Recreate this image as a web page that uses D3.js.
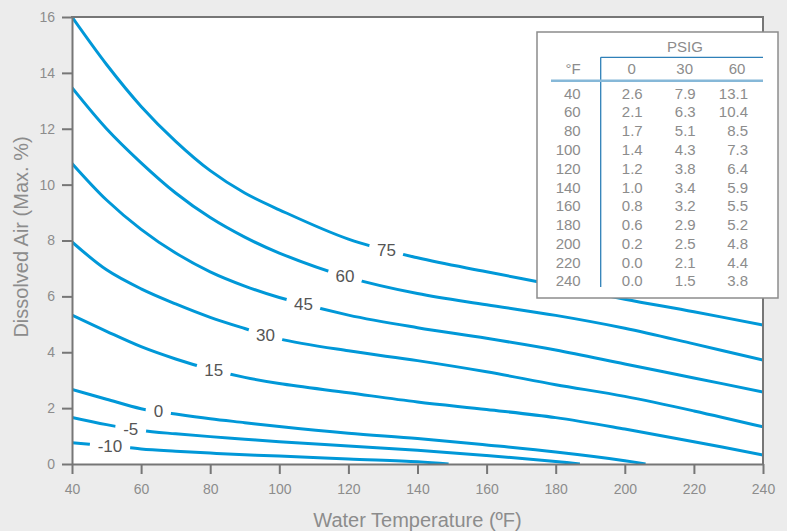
<!DOCTYPE html>
<html>
<head>
<meta charset="utf-8">
<script src="https://cdn.jsdelivr.net/npm/d3@7"></script>
<style>
  body { margin: 0; background: #ececec; }
  svg { display: block; font-family: "Liberation Sans", Arial, Helvetica, sans-serif; }
</style>
</head>
<body>
<div id="chart"></div>
<script>
// Temperatures (°F) the curves were read at
var temps = [40, 50, 60, 70, 80, 90, 100, 120, 140, 160, 180, 200, 220, 240];

// Dissolved air (%) for each pressure curve (PSIG)
var psig75 = [16.0, 14.3, 12.8, 11.55, 10.5, 9.7, 9.1, 8.05, 7.38, 6.88, 6.4, 5.9, 5.45, 4.97];
var psig60 = [13.47, 12.0, 10.78, 9.7, 8.82, 8.12, 7.55, 6.68, 6.1, 5.7, 5.32, 4.86, 4.3, 3.72];
var psig45 = [10.76, 9.45, 8.4, 7.55, 6.88, 6.37, 5.96, 5.33, 4.88, 4.5, 4.08, 3.58, 3.08, 2.58];
var psig30 = [7.95, 6.95, 6.27, 5.73, 5.25, 4.85, 4.48, 4.05, 3.7, 3.3, 2.84, 2.42, 1.9, 1.33];
var psig15 = [5.33, 4.75, 4.2, 3.76, 3.39, 3.1, 2.88, 2.55, 2.22, 1.95, 1.66, 1.25, 0.8, 0.32];

// the low pressure curves run into the axis before 240 °F
var tempsPsig0 = [40, 50, 60, 70, 80, 90, 100, 120, 140, 160, 180, 200, 206];
var psig0 = [2.67, 2.32, 1.98, 1.79, 1.62, 1.48, 1.34, 1.1, 0.91, 0.68, 0.43, 0.12, 0];
var tempsPsigM5 = [40, 50, 60, 70, 80, 90, 100, 120, 140, 160, 180, 187];
var psigM5 = [1.67, 1.41, 1.2, 1.08, 0.98, 0.89, 0.8, 0.64, 0.49, 0.3, 0.09, 0];
var tempsPsigM10 = [40, 50, 60, 70, 80, 90, 100, 120, 140, 149];
var psigM10 = [0.76, 0.66, 0.54, 0.46, 0.39, 0.33, 0.29, 0.18, 0.08, 0];

var curveLabels = ["75", "60", "45", "30", "15", "0", "-5", "-10"];
var labelTemps = [131, 119, 107, 96, 81, 65, 57, 51];

// Inset table
var tableHeader = ["0", "30", "60"];
var tableTemps = [40, 60, 80, 100, 120, 140, 160, 180, 200, 220, 240];
var table0 = ["2.6", "2.1", "1.7", "1.4", "1.2", "1.0", "0.8", "0.6", "0.2", "0.0", "0.0"];
var table30 = ["7.9", "6.3", "5.1", "4.3", "3.8", "3.4", "3.2", "2.9", "2.5", "2.1", "1.5"];
var table60 = ["13.1", "10.4", "8.5", "7.3", "6.4", "5.9", "5.5", "5.2", "4.8", "4.4", "3.8"];

var xTicks = d3.range(40, 241, 20);
var yTicks = d3.range(0, 17, 2);

// SVG area
var svgWidth = 787;
var svgHeight = 531;
var margin = { top: 17, right: 24, bottom: 67, left: 72 };
var width = svgWidth - margin.left - margin.right;
var height = svgHeight - margin.top - margin.bottom;

var lineColor = "#0098d8";
var axisColor = "#767676";
var textColor = "#8c8c8c";

var svg = d3.select("#chart")
  .append("svg")
  .attr("width", svgWidth)
  .attr("height", svgHeight);

var defs = svg.append("defs");

var chartGroup = svg.append("g")
  .attr("transform", `translate(${margin.left}, ${margin.top})`);

var x = d3.scaleLinear().domain([40, 240]).range([0, width]);
var y = d3.scaleLinear().domain([0, 16]).range([height, 0]);

// white plot area
chartGroup.append("rect")
  .attr("width", width)
  .attr("height", height)
  .attr("fill", "#fff");

defs.append("clipPath").attr("id", "plot-clip")
  .append("rect").attr("width", width).attr("height", height);

var series = [
  { t: temps, v: psig75 },
  { t: temps, v: psig60 },
  { t: temps, v: psig45 },
  { t: temps, v: psig30 },
  { t: temps, v: psig15 },
  { t: tempsPsig0, v: psig0 },
  { t: tempsPsigM5, v: psigM5 },
  { t: tempsPsigM10, v: psigM10 }
];

function valueAt(ts, vs, t) {
  var i = d3.bisectRight(ts, t);
  i = Math.max(1, Math.min(ts.length - 1, i));
  var f = (t - ts[i - 1]) / (ts[i] - ts[i - 1]);
  return vs[i - 1] + f * (vs[i] - vs[i - 1]);
}

var line = d3.line()
  .x(d => x(d[0]))
  .y(d => y(d[1]))
  .curve(d3.curveCatmullRom.alpha(0.5));

var linesGroup = chartGroup.append("g").attr("clip-path", "url(#plot-clip)");
var labelGroup = chartGroup.append("g");

series.forEach(function(s, i) {
  var lx = x(labelTemps[i]);
  var ly = y(valueAt(s.t, s.v, labelTemps[i]));

  var label = labelGroup.append("text")
    .attr("x", lx)
    .attr("y", ly)
    .attr("dy", "0.36em")
    .attr("text-anchor", "middle")
    .attr("font-size", 17)
    .attr("fill", "#555")
    .text(curveLabels[i]);

  var r = label.node().getComputedTextLength() / 2 + 8;

  // cut a gap in the curve where its label sits
  var mask = defs.append("mask").attr("id", "gap-" + i)
    .attr("maskUnits", "userSpaceOnUse")
    .attr("x", -10).attr("y", -10)
    .attr("width", width + 20).attr("height", height + 20);
  mask.append("rect")
    .attr("x", -10).attr("y", -10)
    .attr("width", width + 20).attr("height", height + 20)
    .attr("fill", "#fff");
  mask.append("circle")
    .attr("cx", lx).attr("cy", ly).attr("r", r)
    .attr("fill", "#000");

  linesGroup.append("path")
    .datum(s.t.map((t, j) => [t, s.v[j]]))
    .attr("d", line)
    .attr("fill", "none")
    .attr("stroke", lineColor)
    .attr("stroke-width", 3)
    .attr("mask", "url(#gap-" + i + ")");
});

// Axes
var bottomAxis = d3.axisBottom(x).tickValues(xTicks).tickSize(10).tickSizeOuter(0).tickPadding(10);
var leftAxis = d3.axisLeft(y).tickValues(yTicks).tickSize(10).tickSizeOuter(0).tickPadding(7);

var xAxisG = chartGroup.append("g")
  .attr("transform", `translate(0, ${height})`)
  .call(bottomAxis);
var yAxisG = chartGroup.append("g")
  .call(leftAxis);

[xAxisG, yAxisG].forEach(function(g) {
  g.attr("font-family", null).attr("font-size", 14);
  g.selectAll("path, line").attr("stroke", axisColor).attr("stroke-width", 2);
  g.selectAll("text").attr("fill", textColor);
});

// top and right frame
chartGroup.append("line")
  .attr("x1", -1).attr("x2", width + 1).attr("y1", 0).attr("y2", 0)
  .attr("stroke", axisColor).attr("stroke-width", 2);
chartGroup.append("line")
  .attr("x1", width).attr("x2", width).attr("y1", 0).attr("y2", height)
  .attr("stroke", axisColor).attr("stroke-width", 2);

// Axis titles
svg.append("text")
  .attr("x", margin.left + width / 2)
  .attr("y", 527)
  .attr("text-anchor", "middle")
  .attr("font-size", 20)
  .attr("fill", textColor)
  .text("Water Temperature (ºF)");

svg.append("text")
  .attr("transform", "translate(28, 237) rotate(-90)")
  .attr("text-anchor", "middle")
  .attr("font-size", 20)
  .attr("fill", textColor)
  .text("Dissolved Air (Max. %)");

// Inset table
var table = svg.append("g").attr("transform", "translate(537, 32)");

table.append("rect")
  .attr("width", 241)
  .attr("height", 266)
  .attr("fill", "#fff")
  .attr("stroke", "#8c8c8c")
  .attr("stroke-width", 1.5);

var rowY = d3.scalePoint().domain(tableTemps).range([61.3, 249]);
var colRight = [105.7, 158.7, 211];

table.append("text")
  .attr("x", 148).attr("y", 15).attr("dy", "0.36em")
  .attr("text-anchor", "middle")
  .attr("font-size", 15).attr("fill", textColor)
  .text("PSIG");

table.append("text")
  .attr("x", 43.7).attr("y", 37).attr("dy", "0.36em")
  .attr("text-anchor", "end")
  .attr("font-size", 15).attr("fill", textColor)
  .text("°F");

table.selectAll(".colhead")
  .data(tableHeader)
  .enter()
  .append("text")
  .attr("class", "colhead")
  .attr("x", (d, i) => colRight[i] - 11)
  .attr("y", 37).attr("dy", "0.36em")
  .attr("text-anchor", "middle")
  .attr("font-size", 15).attr("fill", textColor)
  .text(d => d);

// lines of the table
table.append("line")
  .attr("x1", 63.7).attr("x2", 226).attr("y1", 25.3).attr("y2", 25.3)
  .attr("stroke", "#2f80b8").attr("stroke-width", 1.3);
table.append("line")
  .attr("x1", 63.7).attr("x2", 63.7).attr("y1", 25.3).attr("y2", 255)
  .attr("stroke", "#2f80b8").attr("stroke-width", 1.3);
table.append("line")
  .attr("x1", 14).attr("x2", 226).attr("y1", 48.7).attr("y2", 48.7)
  .attr("stroke", "#86b8d8").attr("stroke-width", 2.5);

var cols = [tableTemps, table0, table30, table60];
var colX = [43.7].concat(colRight);

cols.forEach(function(col, c) {
  table.selectAll(".col" + c)
    .data(col)
    .enter()
    .append("text")
    .attr("class", "col" + c)
    .attr("x", colX[c])
    .attr("y", (d, i) => rowY(tableTemps[i]))
    .attr("dy", "0.36em")
    .attr("text-anchor", "end")
    .attr("font-size", 15)
    .attr("fill", textColor)
    .text(d => d);
});
</script>
</body>
</html>
